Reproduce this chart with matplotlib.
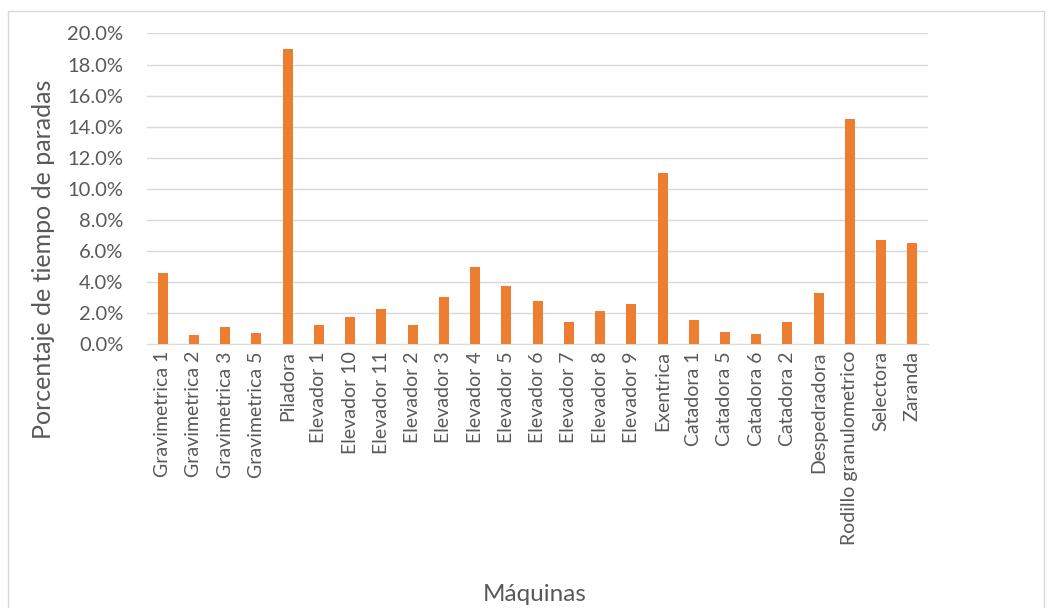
import numpy as np
import matplotlib.pyplot as plt
from matplotlib.patches import Rectangle
from matplotlib.ticker import PercentFormatter

# ============================================
# DATA
# ============================================
maquinas = [
    "Gravimetrica 1", "Gravimetrica 2", "Gravimetrica 3", "Gravimetrica 5",
    "Piladora", "Elevador 1", "Elevador 10", "Elevador 11", "Elevador 2",
    "Elevador 3", "Elevador 4", "Elevador 5", "Elevador 6", "Elevador 7",
    "Elevador 8", "Elevador 9", "Exentrica", "Catadora 1", "Catadora 5",
    "Catadora 6", "Catadora 2", "Despedradora", "Rodillo granulometrico",
    "Selectora", "Zaranda",
]
porcentaje = [
    4.61, 0.61, 1.08, 0.69, 19.0, 1.25, 1.77, 2.28, 1.23, 3.06, 4.95, 3.74,
    2.77, 1.44, 2.15, 2.56, 11.0, 1.57, 0.80, 0.65, 1.42, 3.27, 14.5, 6.71, 6.54,
]
y_ticks = [0, 2, 4, 6, 8, 10, 12, 14, 16, 18, 20]

# ============================================
# PLOT
# ============================================
plt.rcParams["font.family"] = ["Lato", "DejaVu Sans"]
text_col = "#595959"

fig = plt.figure(figsize=(10.54, 6.08), dpi=100)
ax = fig.add_axes([0.1395, 0.434, 0.741, 0.511])

x = np.arange(len(maquinas))
ax.bar(x, porcentaje, width=0.32, color="#ED7D31", zorder=3)

ax.set_xlim(-0.5, len(maquinas) - 0.5)
ax.set_ylim(0, 20)
ax.set_yticks(y_ticks)
ax.yaxis.set_major_formatter(PercentFormatter(100, decimals=1))
ax.grid(axis="y", color="#d9d9d9", linewidth=1, zorder=0)

ax.set_xticks(x)
ax.set_xticklabels(maquinas, rotation=90, fontsize=14, color=text_col)
ax.tick_params(axis="y", labelsize=14.5, labelcolor=text_col, length=0, pad=17)
ax.tick_params(axis="x", length=0, pad=5)

for side in ["top", "right", "left"]:
    ax.spines[side].set_visible(False)
ax.spines["bottom"].set_color("#d9d9d9")

# axis titles
fig.text(44 / 1054, 1 - 259 / 608, "Porcentaje de tiempo de paradas", fontsize=18,
         color=text_col, rotation=90, ha="center", va="center")
fig.text(0.507, 0.012, "Máquinas", fontsize=17.5, color=text_col, ha="center")

# chart border
fig.patches.append(Rectangle((8 / 1054, -0.05), 1036 / 1054, 1.05 - 11 / 608,
                             transform=fig.transFigure, fill=False,
                             edgecolor="#d9d9d9", linewidth=1))

fig.savefig("out.png", dpi=100)
